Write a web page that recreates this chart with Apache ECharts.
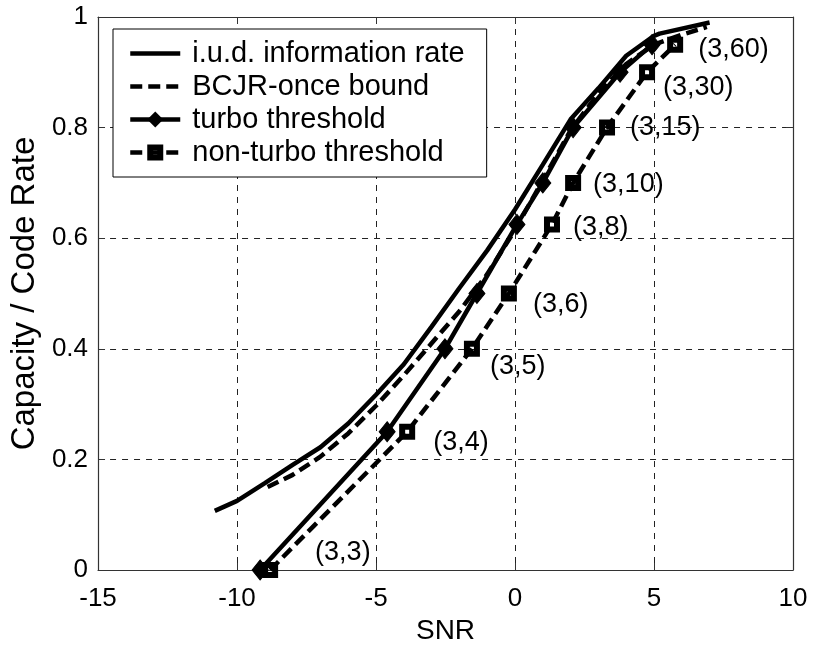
<!DOCTYPE html>
<html>
<head>
<meta charset="utf-8">
<script src="https://cdn.jsdelivr.net/npm/echarts@6/dist/echarts.min.js"></script>
<style>
  html, body { margin: 0; padding: 0; background: #fff; }
  #chart { width: 814px; height: 650px; }
</style>
</head>
<body>
<div id="chart"></div>
<script>
// SNR (dB) vs. information rate of the i.u.d. input
const iudSnr  = [-10.8, -10, -9, -8, -7, -6, -5, -4, -3, -2, -1, 0, 1, 2, 3, 4, 5, 5.2, 7];
const iudRate = [0.107, 0.125, 0.157, 0.19, 0.222, 0.265, 0.317, 0.372, 0.44, 0.51, 0.578, 0.652, 0.733, 0.815, 0.871, 0.93, 0.966, 0.97, 0.99];

// BCJR-once bound
const bcjrSnr  = [-8.9, -8, -7, -6, -5, -4, -3, -2, -1, 0, 1, 2, 3, 4, 5, 6, 6.9];
const bcjrRate = [0.15, 0.172, 0.205, 0.247, 0.297, 0.352, 0.41, 0.468, 0.535, 0.615, 0.705, 0.795, 0.862, 0.915, 0.95, 0.968, 0.982];

// Regular (3,k) LDPC codes: design rates and thresholds
const codeNames     = ['(3,3)', '(3,4)', '(3,5)', '(3,6)', '(3,8)', '(3,10)', '(3,15)', '(3,30)', '(3,60)'];
const codeRates     = [0, 0.25, 0.4, 0.5, 0.625, 0.7, 0.8, 0.9, 0.95];
const turboSnr      = [-9.17, -4.6, -2.52, -1.37, 0.07, 1.0, 2.09, 3.78, 4.93];
const nonTurboSnr   = [-8.81, -3.88, -1.55, -0.22, 1.33, 2.09, 3.31, 4.75, 5.76];

// Axis ticks
const xTicks = { min: -15, max: 10, step: 5 };
const yTicks = { min: 0, max: 1, step: 0.2 };

// Label placement next to each non-turbo marker (pixels)
const labelOffsets = [[34, -17], [15, 11], [7, 18], [13, 11], [10, 3], [9, 2], [12, 0], [5, 15], [12, 5]];

const FONT = 'Liberation Sans, Arial, Helvetica, sans-serif';
const pairs = (xs, ys) => xs.map((x, i) => [x, ys[i]]);

// filled square with a small hole in the middle
const HOLLOW_SQUARE = 'path://M0,0 L16,0 L16,16 L0,16 Z M6,6 L6,10 L10,10 L10,6 Z';

const gridLine = { show: true, lineStyle: { color: '#222', width: 1, type: [6, 6] } };
const boxLine = { show: true, onZero: false, lineStyle: { color: '#333', width: 1.2 } };
const tick = { show: true, inside: true, length: 7, lineStyle: { color: '#333', width: 1 } };
const noMarker = { color: 'rgba(0,0,0,0)', borderColor: 'rgba(0,0,0,0)', borderWidth: 0 };

const chart = echarts.init(document.getElementById('chart'), null, { renderer: 'canvas' });

chart.setOption({
  backgroundColor: '#fff',
  animation: false,
  textStyle: { fontFamily: FONT, color: '#000' },
  grid: { left: 98, top: 17, width: 695, height: 558 },
  legend: {
    orient: 'vertical',
    left: 113,
    top: 29,
    padding: [10, 22, 10, 15],
    itemWidth: 50,
    itemHeight: 20,
    itemGap: 4,
    backgroundColor: '#fff',
    borderColor: '#000',
    borderWidth: 1,
    lineStyle: { width: 4.5 },
    textStyle: { fontFamily: FONT, fontSize: 29, lineHeight: 29, color: '#000', padding: [0, 0, 0, 7] },
    data: [
      { name: 'i.u.d. information rate', itemStyle: noMarker },
      { name: 'BCJR-once bound', itemStyle: noMarker },
      'turbo threshold',
      'non-turbo threshold'
    ]
  },
  xAxis: [{
    type: 'value', position: 'bottom',
    min: xTicks.min, max: xTicks.max, interval: xTicks.step,
    name: 'SNR', nameLocation: 'middle', nameGap: 47,
    nameTextStyle: { fontFamily: FONT, fontSize: 28, color: '#000' },
    axisLine: boxLine, axisTick: tick, splitLine: gridLine,
    axisLabel: { fontFamily: FONT, fontSize: 26, color: '#000', margin: 16 }
  }, {
    type: 'value', position: 'top',
    min: xTicks.min, max: xTicks.max, interval: xTicks.step,
    axisLine: boxLine, axisTick: tick, splitLine: { show: false }, axisLabel: { show: false }
  }],
  yAxis: [{
    type: 'value', position: 'left',
    min: yTicks.min, max: yTicks.max, interval: yTicks.step,
    name: 'Capacity / Code Rate', nameLocation: 'middle', nameGap: 57,
    nameTextStyle: { fontFamily: FONT, fontSize: 33, color: '#000' },
    axisLine: boxLine, axisTick: tick, splitLine: gridLine,
    axisLabel: { fontFamily: FONT, fontSize: 26, color: '#000', margin: 10 }
  }, {
    type: 'value', position: 'right',
    min: yTicks.min, max: yTicks.max, interval: yTicks.step,
    axisLine: boxLine, axisTick: tick, splitLine: { show: false }, axisLabel: { show: false }
  }],
  series: [{
    name: 'i.u.d. information rate',
    type: 'line',
    data: pairs(iudSnr, iudRate),
    symbol: 'none',
    lineStyle: { color: '#000', width: 4.5 },
    itemStyle: { color: '#000' },
    z: 3
  }, {
    name: 'BCJR-once bound',
    type: 'line',
    data: pairs(bcjrSnr, bcjrRate),
    symbol: 'none',
    lineStyle: { color: '#000', width: 4.5, type: [12, 6] },
    itemStyle: { color: '#000' },
    z: 3
  }, {
    name: 'turbo threshold',
    type: 'line',
    data: pairs(turboSnr, codeRates),
    symbol: 'diamond',
    symbolSize: [16, 20],
    showAllSymbol: true,
    clip: false,
    lineStyle: { color: '#000', width: 4.5 },
    itemStyle: { color: '#000', borderColor: '#000' },
    z: 4
  }, {
    name: 'non-turbo threshold',
    type: 'line',
    data: nonTurboSnr.map((x, i) => ({
      value: [x, codeRates[i]],
      name: codeNames[i],
      label: { offset: labelOffsets[i] }
    })),
    symbol: HOLLOW_SQUARE,
    symbolSize: 16,
    showAllSymbol: true,
    clip: false,
    lineStyle: { color: '#000', width: 4.5, type: [12, 6] },
    itemStyle: { color: '#000' },
    label: {
      show: true,
      position: 'right',
      distance: 3,
      formatter: p => p.name,
      fontFamily: FONT,
      fontSize: 27,
      color: '#000'
    },
    z: 5
  }]
});
</script>
</body>
</html>
